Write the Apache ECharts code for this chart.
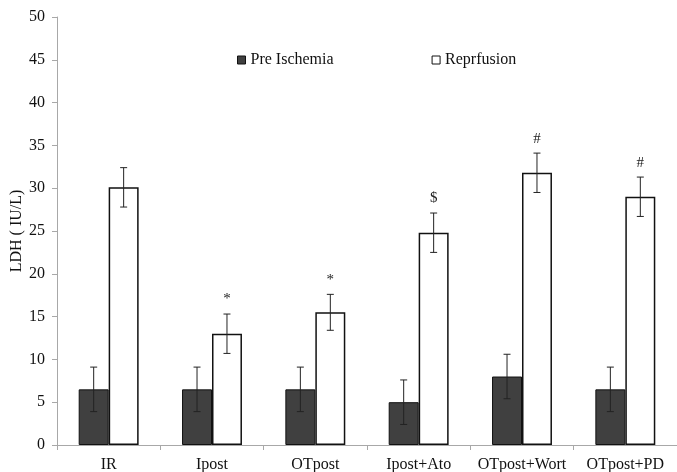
<!DOCTYPE html>
<html>
<head>
<meta charset="utf-8">
<script src="https://cdn.jsdelivr.net/npm/echarts@6/dist/echarts.min.js"></script>
<style>
  html, body { margin: 0; padding: 0; background: #fff; }
  #main { width: 677px; height: 472px; }
</style>
</head>
<body>
<div id="main"></div>
<script>
var categories = ['IR', 'Ipost', 'OTpost', 'Ipost+Ato', 'OTpost+Wort', 'OTpost+PD'];
var preValues = [6.5, 6.5, 6.5, 5.0, 8.0, 6.5];
var preErr = [2.6, 2.6, 2.6, 2.6, 2.6, 2.6];
var repValues = [30.1, 13.0, 15.5, 24.8, 31.8, 29.0];
var repErr = [2.3, 2.3, 2.1, 2.3, 2.3, 2.3];
var repMarks = ['', '*', '*', '$', '#', '#'];

var font = '"Liberation Serif", "Times New Roman", serif';
var chart = echarts.init(document.getElementById('main'));

// error bar drawn as a custom series; offset picks left/right bar of the pair
function errSeries(name, vals, errs, offset, marks) {
  var data = vals.map(function (v, i) { return [i, v, errs[i]]; });
  return {
    name: name + ' err',
    type: 'custom',
    z: 10,
    silent: true,
    data: data,
    renderItem: function (params, api) {
      var i = api.value(0), v = api.value(1), e = api.value(2);
      var bw = api.size([1, 0])[0] * 0.29;
      var x = api.coord([i, 0])[0] + offset * bw / 2;
      var top = api.coord([i, v + e])[1];
      var bot = api.coord([i, v - e])[1];
      var cap = 3.5;
      var style = { stroke: '#222', lineWidth: 1 };
      var kids = [
        { type: 'line', shape: { x1: x, y1: top, x2: x, y2: bot }, style: style },
        { type: 'line', shape: { x1: x - cap, y1: top, x2: x + cap, y2: top }, style: style },
        { type: 'line', shape: { x1: x - cap, y1: bot, x2: x + cap, y2: bot }, style: style }
      ];
      if (marks && marks[i]) {
        kids.push({
          type: 'text',
          style: {
            text: marks[i], x: x, y: top - 7,
            textAlign: 'center', textVerticalAlign: 'bottom',
            font: '15px ' + font, fill: '#222'
          }
        });
      }
      return { type: 'group', children: kids };
    }
  };
}

var option = {
  animation: false,
  backgroundColor: '#fff',
  textStyle: { fontFamily: font },
  grid: { left: 57, right: 0, top: 17, bottom: 27, containLabel: false, outerBoundsMode: 'none' },
  legend: {
    top: 47,
    left: 232,
    itemGap: 98,
    itemWidth: 8,
    itemHeight: 8,
    icon: 'rect',
    textStyle: { fontFamily: font, fontSize: 16, color: '#111' },
    data: [
      { name: 'Pre Ischemia', itemStyle: { borderWidth: 1, borderColor: '#111' } },
      { name: 'Reprfusion', itemStyle: { borderWidth: 1, borderColor: '#111' } }
    ]
  },
  xAxis: {
    type: 'category',
    data: categories,
    axisLine: { lineStyle: { color: '#a8a8a8' } },
    axisTick: { show: true, length: 5, lineStyle: { color: '#a8a8a8' } },
    axisLabel: { fontFamily: font, fontSize: 16, color: '#111', margin: 12, interval: 0, hideOverlap: false }
  },
  yAxis: {
    type: 'value',
    min: 0,
    max: 50,
    interval: 5,
    name: 'LDH ( IU/L)',
    nameLocation: 'middle',
    nameGap: 32,
    nameMoveOverlap: false,
    nameTextStyle: { fontFamily: font, fontSize: 16, color: '#111' },
    axisLine: { show: true, lineStyle: { color: '#a8a8a8' } },
    axisTick: { show: true, length: 5, lineStyle: { color: '#a8a8a8' } },
    axisLabel: { fontFamily: font, fontSize: 16, color: '#111', margin: 12 },
    splitLine: { show: false }
  },
  series: [
    {
      name: 'Pre Ischemia',
      type: 'bar',
      data: preValues,
      barWidth: '29%',
      barGap: '0%',
      itemStyle: { color: '#404040', borderColor: '#111', borderWidth: 1 }
    },
    {
      name: 'Reprfusion',
      type: 'bar',
      data: repValues,
      barWidth: '29%',
      barGap: '0%',
      itemStyle: { color: '#fff', borderColor: '#111', borderWidth: 1.5 }
    },
    errSeries('Pre Ischemia', preValues, preErr, -1, null),
    errSeries('Reprfusion', repValues, repErr, 1, repMarks)
  ]
};

chart.setOption(option);
</script>
</body>
</html>
